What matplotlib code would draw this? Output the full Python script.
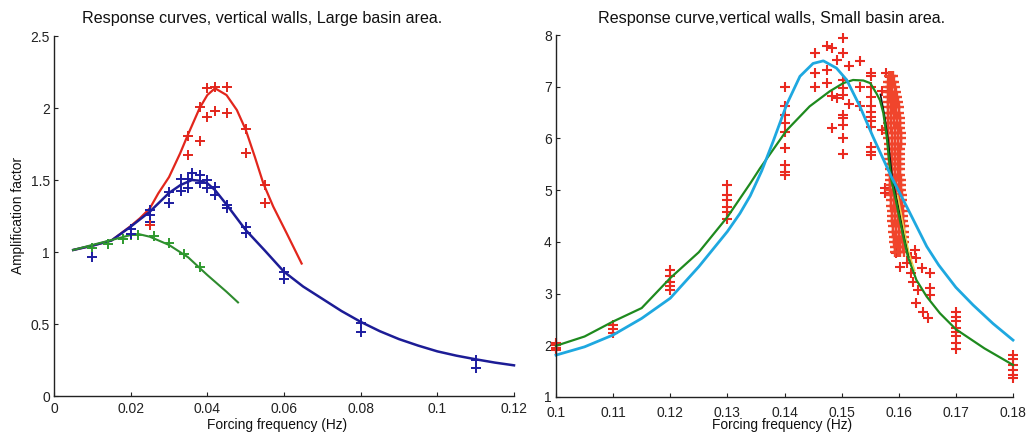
import matplotlib
matplotlib.use("Agg")
import matplotlib.pyplot as plt
from matplotlib.ticker import FormatStrFormatter

plt.rcParams['font.family'] = ['Liberation Sans', 'DejaVu Sans']

# ---------------- Left panel data (Large basin area) ----------------
blue_curve_x = [0.005, 0.01, 0.015, 0.02, 0.025, 0.03, 0.033, 0.036, 0.038, 0.04, 0.042, 0.045,
                0.05, 0.055, 0.06, 0.065, 0.07, 0.075, 0.08, 0.085, 0.09, 0.095, 0.1, 0.105,
                0.11, 0.115, 0.12]
blue_curve_y = [1.014, 1.044, 1.08, 1.176, 1.28, 1.41, 1.465, 1.50, 1.495, 1.477, 1.43, 1.33,
                1.153, 1.01, 0.863, 0.76, 0.675, 0.59, 0.515, 0.45, 0.395, 0.35, 0.31, 0.28,
                0.255, 0.232, 0.213]

red_curve_x = [0.005, 0.01, 0.015, 0.02, 0.0224, 0.025, 0.0272, 0.03, 0.0329, 0.0348, 0.038, 0.04,
               0.042, 0.045, 0.0477, 0.05, 0.0524, 0.0546, 0.0572, 0.0607, 0.0646]
red_curve_y = [1.014, 1.044, 1.08, 1.18, 1.234, 1.303, 1.407, 1.52, 1.685, 1.806, 2.0, 2.09,
               2.137, 2.09, 1.986, 1.85, 1.66, 1.477, 1.315, 1.13, 0.92]

green_curve_x = [0.005, 0.01, 0.015, 0.02, 0.022, 0.025, 0.03, 0.035, 0.04, 0.045, 0.048]
green_curve_y = [1.014, 1.049, 1.083, 1.118, 1.125, 1.106, 1.049, 0.963, 0.84, 0.724, 0.65]

green_pts_x = [0.01, 0.014, 0.018, 0.02, 0.022, 0.026, 0.03, 0.034, 0.038]
green_pts_y = [1.025, 1.056, 1.09, 1.118, 1.118, 1.113, 1.065, 0.986, 0.898]

blue_pts_x = [0.01, 0.02, 0.02, 0.025, 0.025, 0.025, 0.03, 0.03, 0.033, 0.033, 0.035, 0.035,
              0.036, 0.038, 0.038, 0.04, 0.04, 0.042, 0.042, 0.045, 0.045, 0.05, 0.05,
              0.06, 0.06, 0.08, 0.08, 0.11, 0.11]
blue_pts_y = [0.963, 1.157, 1.123, 1.29, 1.257, 1.21, 1.419, 1.343, 1.505, 1.426, 1.505, 1.442,
              1.546, 1.535, 1.477, 1.50, 1.442, 1.454, 1.396, 1.326, 1.303, 1.171, 1.13,
              0.859, 0.81, 0.509, 0.447, 0.25, 0.192]

red_pts_x = [0.025, 0.035, 0.035, 0.038, 0.038, 0.04, 0.04, 0.042, 0.042, 0.045, 0.045,
             0.05, 0.05, 0.055, 0.055]
red_pts_y = [1.19, 1.806, 1.674, 2.005, 1.773, 2.137, 1.94, 2.148, 1.98, 2.148, 1.967,
             1.852, 1.685, 1.465, 1.343]

left_xticks = [0, 0.02, 0.04, 0.06, 0.08, 0.1, 0.12]
left_yticks = [0, 0.5, 1, 1.5, 2, 2.5]

# ---------------- Right panel data (Small basin area) ----------------
cyan_curve_x = [0.1, 0.105, 0.11, 0.115, 0.12, 0.125, 0.13, 0.1322, 0.134, 0.136, 0.138, 0.1404,
                0.1427, 0.145, 0.1468, 0.1491, 0.1509, 0.1532, 0.1555, 0.1587, 0.1614, 0.1649,
                0.167, 0.17, 0.173, 0.1765, 0.18]
cyan_curve_y = [1.81, 1.97, 2.2, 2.52, 2.91, 3.52, 4.2, 4.55, 4.89, 5.37, 5.94, 6.66,
                7.2, 7.45, 7.5, 7.36, 7.13, 6.62, 6.03, 5.26, 4.68, 3.91,
                3.55, 3.12, 2.78, 2.42, 2.10]

green2_curve_x = [0.1, 0.105, 0.11, 0.115, 0.12, 0.125, 0.13, 0.134, 0.1357, 0.1404, 0.1444,
                  0.1479, 0.1503, 0.152, 0.1538, 0.155, 0.1561, 0.1567, 0.1573, 0.1579, 0.1583,
                  0.1587, 0.1595, 0.1602, 0.1609, 0.1616, 0.1631, 0.1649, 0.1672, 0.17, 0.175, 0.18]
green2_curve_y = [1.99, 2.17, 2.46, 2.72, 3.3, 3.8, 4.48, 5.13, 5.42, 6.16, 6.62,
                  6.91, 7.07, 7.13, 7.12, 7.07, 6.87, 6.74, 6.49, 6.03, 5.58,
                  5.2, 4.8, 4.42, 4.05, 3.71, 3.26, 2.94, 2.62, 2.31, 1.94, 1.62]

black_curve_x = [0.1568, 0.1575, 0.1581, 0.1585, 0.1589, 0.1597, 0.1604, 0.1611, 0.1618]
black_curve_y = [6.85, 6.45, 6.0, 5.6, 5.2, 4.8, 4.4, 4.05, 3.72]

yellow_curve_x = [0.1598, 0.1605, 0.1612, 0.1619, 0.1628]
yellow_curve_y = [4.9, 4.5, 4.1, 3.75, 3.45]

# measured points (sparse)
meas_x = ([0.1] * 4 + [0.11] * 3 + [0.12] * 5 + [0.13] * 6 + [0.14] * 9
          + [0.1453] * 3 + [0.1474] * 3 + [0.1484] * 3 + [0.1492] * 2 + [0.1503] * 10
          + [0.1513] * 2 + [0.1533] * 3 + [0.1552] * 12 + [0.1571] * 2 + [0.1578]
          + [0.1576, 0.1576, 0.1593, 0.1596, 0.1602, 0.1622, 0.1631, 0.164, 0.1654, 0.1622,
             0.1625, 0.1634, 0.1654, 0.1654, 0.1631, 0.1643, 0.1651, 0.1628, 0.1615]
          + [0.17] * 8 + [0.18] * 6)
meas_y = ([2.05, 2.0, 1.95, 1.9]
          + [2.39, 2.31, 2.24]
          + [3.46, 3.34, 3.23, 3.15, 3.06]
          + [5.10, 4.91, 4.81, 4.68, 4.58, 4.44]
          + [7.0, 6.63, 6.45, 6.29, 6.13, 5.81, 5.49, 5.36, 5.29]
          + [7.66, 7.26, 6.99]
          + [7.79, 7.33, 7.07]
          + [7.74, 6.82, 6.2]
          + [7.52, 6.78]
          + [7.94, 7.65, 7.13, 6.97, 6.84, 6.45, 6.39, 6.26, 6.0, 5.70]
          + [7.40, 6.67]
          + [7.49, 6.99, 6.62]
          + [7.26, 7.2, 7.0, 6.81, 6.62, 6.52, 6.42, 6.33, 6.23, 5.84, 5.74, 5.68]
          + [6.91, 6.16]
          + [7.26]
          + [5.04, 4.94, 3.91, 3.78, 3.52, 3.71, 3.68, 3.49, 3.40, 3.39,
             3.23, 3.07, 3.10, 2.97, 2.81, 2.65, 2.52, 3.84, 3.6]
          + [2.65, 2.55, 2.46, 2.33, 2.26, 2.17, 2.05, 1.92]
          + [1.81, 1.73, 1.62, 1.52, 1.43, 1.36])

# dense cluster of measured points near 0.158-0.161 Hz: rows of (y, [x values])
cluster_rows = [
    (7.2, [0.1583, 0.1587, 0.1590]),
    (7.1, [0.1581, 0.1585, 0.1589, 0.1591]),
    (7.0, [0.1581, 0.1585, 0.1589, 0.1593]),
    (6.9, [0.1581, 0.1585, 0.1589, 0.1595]),
    (6.8, [0.1581, 0.1585, 0.1590, 0.1594, 0.1597]),
    (6.7, [0.1581, 0.1586, 0.1590, 0.1594, 0.1598]),
    (6.6, [0.1581, 0.1586, 0.1590, 0.1595, 0.1600]),
    (6.5, [0.1582, 0.1587, 0.1591, 0.1596, 0.1601]),
    (6.4, [0.1582, 0.1587, 0.1592, 0.1597, 0.1602]),
    (6.3, [0.1582, 0.1587, 0.1592, 0.1597, 0.1602]),
    (6.2, [0.1582, 0.1587, 0.1593, 0.1598, 0.1603]),
    (6.1, [0.1582, 0.1588, 0.1593, 0.1599, 0.1604]),
    (6.0, [0.1582, 0.1588, 0.1593, 0.1599, 0.1604]),
    (5.9, [0.1583, 0.1588, 0.1594, 0.1599, 0.1604]),
    (5.8, [0.1583, 0.1588, 0.1593, 0.1598, 0.1603]),
    (5.7, [0.1583, 0.1588, 0.1593, 0.1598, 0.1603]),
    (5.6, [0.1583, 0.1588, 0.1593, 0.1598, 0.1603]),
    (5.5, [0.1584, 0.1589, 0.1594, 0.1599, 0.1603]),
    (5.4, [0.1584, 0.1589, 0.1594, 0.1599, 0.1603]),
    (5.3, [0.1584, 0.1589, 0.1594, 0.1599, 0.1603]),
    (5.2, [0.1585, 0.1590, 0.1595, 0.1600, 0.1604]),
    (5.1, [0.1585, 0.1590, 0.1595, 0.1600, 0.1604]),
    (5.0, [0.1585, 0.1590, 0.1595, 0.1600, 0.1604]),
    (4.9, [0.1586, 0.1591, 0.1596, 0.1601, 0.1605]),
    (4.8, [0.1586, 0.1591, 0.1596, 0.1601, 0.1605]),
    (4.7, [0.1587, 0.1592, 0.1597, 0.1602, 0.1606]),
    (4.6, [0.1588, 0.1593, 0.1598, 0.1603, 0.1607]),
    (4.5, [0.1588, 0.1593, 0.1598, 0.1603, 0.1607]),
    (4.4, [0.1589, 0.1594, 0.1599, 0.1604, 0.1608]),
    (4.3, [0.1590, 0.1595, 0.1600, 0.1605, 0.1609]),
    (4.2, [0.1590, 0.1595, 0.1600, 0.1605, 0.1609]),
    (4.1, [0.1591, 0.1596, 0.1601, 0.1606, 0.1610]),
    (4.0, [0.1592, 0.1597, 0.1602, 0.1607, 0.1610]),
    (3.9, [0.1593, 0.1598, 0.1603, 0.1608]),
    (3.8, [0.1593, 0.1598, 0.1603, 0.1609]),
]

right_xticks = [0.1, 0.11, 0.12, 0.13, 0.14, 0.15, 0.16, 0.17, 0.18]
right_yticks = [1, 2, 3, 4, 5, 6, 7, 8]

# ---------------- Figure ----------------
W, H = 1033, 437
fig = plt.figure(figsize=(W / 100, H / 100), dpi=100)
ax1 = fig.add_axes([54 / W, 41 / H, 460 / W, 360 / H])
ax2 = fig.add_axes([556 / W, 40 / H, 457 / W, 362 / H])

def style(ax, xpad):
    for s in ['top', 'right']:
        ax.spines[s].set_visible(False)
    for s in ['left', 'bottom']:
        ax.spines[s].set_linewidth(1.0)
        ax.spines[s].set_color('#222222')
    ax.tick_params(direction='in', length=3, width=0.8, labelsize=10, colors='#222222')
    ax.tick_params(axis='x', pad=xpad)
    ax.tick_params(axis='y', pad=3)
    ax.xaxis.set_major_formatter(FormatStrFormatter('%g'))
    ax.yaxis.set_major_formatter(FormatStrFormatter('%g'))

# Left panel
mk = dict(marker='+', linestyle='none', markersize=6.5, markeredgewidth=1.4)
ax1.plot(red_curve_x, red_curve_y, color='#E2261C', lw=1.6)
ax1.plot(blue_curve_x, blue_curve_y, color='#1C1C96', lw=1.8)
ax1.plot(green_curve_x, green_curve_y, color='#2E8B2E', lw=1.5)
ax1.plot(green_pts_x, green_pts_y, color='#2E9A2E', **mk)
ax1.plot(blue_pts_x, blue_pts_y, color='#1C1CA0', **mk)
ax1.plot(red_pts_x, red_pts_y, color='#E2261C', **mk)
ax1.set_xlim(0, 0.12)
ax1.set_ylim(0, 2.5)
ax1.set_xticks(left_xticks)
ax1.set_yticks(left_yticks)
style(ax1, 4.5)

# Right panel
mk2 = dict(marker='+', linestyle='none', markersize=7, markeredgewidth=1.5)
ax2.plot(meas_x, meas_y, color='#EA2A20', **mk2)
cx = [x for (y, xs) in cluster_rows for x in xs]
cy = [y for (y, xs) in cluster_rows for x in xs]
ax2.plot(cx, cy, color='#F0452C', marker='+', linestyle='none', markersize=7.5,
         markeredgewidth=1.7)
ax2.plot(black_curve_x, black_curve_y, color='#111111', lw=1.2)
ax2.plot(yellow_curve_x, yellow_curve_y, color='#E8D84A', lw=1.0)
ax2.plot(green2_curve_x, green2_curve_y, color='#1E8A1E', lw=1.6)
ax2.plot(cyan_curve_x, cyan_curve_y, color='#1EA8E0', lw=2.0)
ax2.set_xlim(0.1, 0.18)
ax2.set_ylim(1, 8)
ax2.set_xticks(right_xticks)
ax2.set_yticks(right_yticks)
style(ax2, 6.5)
for ax in (ax1, ax2):
    for a in ax.get_lines():
        a.set_clip_on(False)

# Text
fig.text(262 / W, 1 - 18 / H, 'Response curves, vertical walls, Large basin area.',
         ha='center', va='center', fontsize=11.6, color='#111111')
fig.text(772 / W, 1 - 18 / H, 'Response curve,vertical walls, Small basin area.',
         ha='center', va='center', fontsize=11.6, color='#111111')
fig.text(277 / W, 1 - 425 / H, 'Forcing frequency (Hz)', ha='center', va='center',
         fontsize=9.9, color='#111111')
fig.text(782 / W, 1 - 425 / H, 'Forcing frequency (Hz)', ha='center', va='center',
         fontsize=9.9, color='#111111')
fig.text(18 / W, 1 - 215 / H, 'Amplification factor', ha='center', va='center',
         rotation=90, fontsize=9.9, color='#111111')

fig.savefig('out.png', dpi=100)
